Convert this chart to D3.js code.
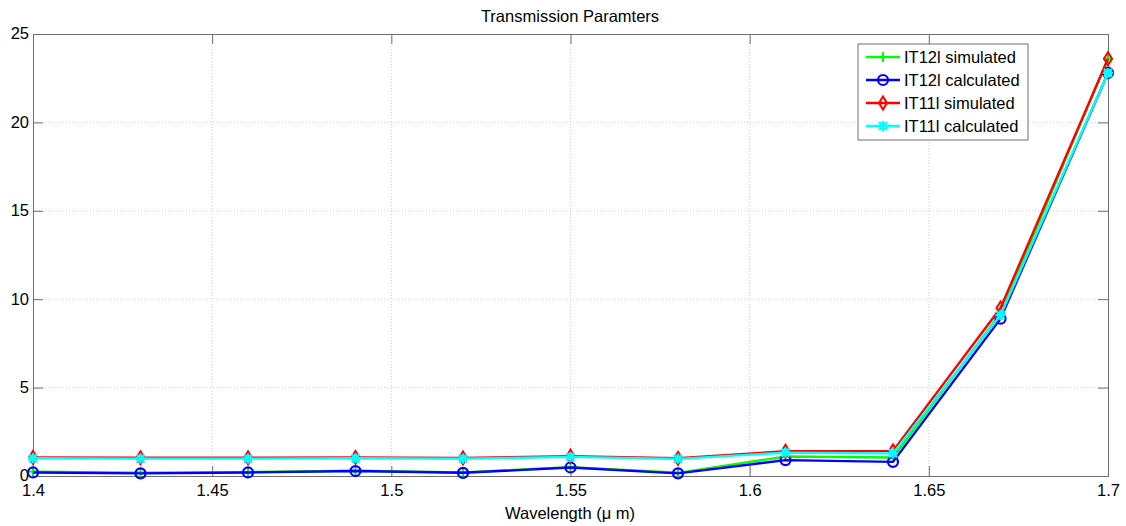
<!DOCTYPE html>
<html>
<head>
<meta charset="utf-8">
<script src="https://cdn.jsdelivr.net/npm/d3@7"></script>
<style>
  body { margin: 0; background: #fff; }
  text { font-family: "Liberation Sans", Arial, sans-serif; }
</style>
</head>
<body>
<script>
// wavelength samples (um)
const wavelength = [1.40, 1.43, 1.46, 1.49, 1.52, 1.55, 1.58, 1.61, 1.64, 1.67, 1.70];
const t12Sim  = [0.25, 0.18, 0.22, 0.30, 0.20, 0.50, 0.18, 1.10, 1.05, 9.2, 23.6];
const t12Calc = [0.20, 0.15, 0.20, 0.28, 0.18, 0.48, 0.15, 0.90, 0.80, 8.9, 22.8];
const t11Sim  = [1.05, 1.03, 1.03, 1.05, 1.02, 1.12, 1.00, 1.40, 1.42, 9.5, 23.6];
const t11Calc = [1.00, 0.98, 0.98, 1.00, 0.98, 1.08, 0.97, 1.32, 1.28, 9.1, 22.8];
const xTicks = [1.4, 1.45, 1.5, 1.55, 1.6, 1.65, 1.7];
const yTicks = [0, 5, 10, 15, 20, 25];

const series = [
  {name: "IT12l simulated",  vals: t12Sim,  color: "#00ff00", marker: "plus"},
  {name: "IT12l calculated", vals: t12Calc, color: "#0000ff", marker: "circle"},
  {name: "IT11l simulated",  vals: t11Sim,  color: "#ff0000", marker: "diamond"},
  {name: "IT11l calculated", vals: t11Calc, color: "#00ffff", marker: "star"}
];

const w = 1126, h = 526;
const margin = {top: 34, right: 18, bottom: 50, left: 33};
const fs = 16.5;

let svg = d3.select("body").append("svg")
  .attr("width", w).attr("height", h);

let x = d3.scaleLinear().domain([1.4, 1.7]).range([margin.left, w - margin.right]);
let y = d3.scaleLinear().domain([0, 25]).range([h - margin.bottom, margin.top]);

// grid
let grid = svg.append("g").attr("stroke", "#cfcfcf").attr("stroke-dasharray", "1,2").attr("stroke-width", 1);
xTicks.slice(1, -1).forEach(t => grid.append("line")
  .attr("x1", x(t)).attr("x2", x(t)).attr("y1", y(0)).attr("y2", y(25)));
yTicks.slice(1, -1).forEach(t => grid.append("line")
  .attr("x1", x(1.4)).attr("x2", x(1.7)).attr("y1", y(t)).attr("y2", y(t)));

// axes with inward ticks (all four sides)
const tk = 10;
svg.append("g")
  .attr("transform", `translate(0,${y(0)})`)
  .call(d3.axisBottom(x).tickValues(xTicks).tickFormat(d3.format("")).tickSize(-tk).tickPadding(8))
  .call(g => g.selectAll("text").attr("font-size", fs).attr("fill", "#000"));
svg.append("g")
  .attr("transform", `translate(0,${y(25)})`)
  .call(d3.axisTop(x).tickValues(xTicks).tickSize(-tk).tickFormat(""));
svg.append("g")
  .attr("transform", `translate(${x(1.4)},0)`)
  .call(d3.axisLeft(y).tickValues(yTicks).tickSize(-tk).tickPadding(4))
  .call(g => g.selectAll("text").attr("font-size", fs).attr("fill", "#000").attr("dy", "0.3em"));
svg.append("g")
  .attr("transform", `translate(${x(1.7)},0)`)
  .call(d3.axisRight(y).tickValues(yTicks).tickSize(-tk).tickFormat(""));
svg.selectAll(".domain, .tick line").attr("stroke", "#6e6e6e");

// marker drawing
function drawMarker(g, type, color, cx, cy) {
  if (type === "plus") {
    g.append("path").attr("d", `M${cx-5},${cy}H${cx+5}M${cx},${cy-5}V${cy+5}`)
      .attr("stroke", color).attr("stroke-width", 2).attr("fill", "none");
  } else if (type === "circle") {
    g.append("circle").attr("cx", cx).attr("cy", cy).attr("r", 5)
      .attr("stroke", color).attr("stroke-width", 2.2).attr("fill", "none");
  } else if (type === "diamond") {
    g.append("path").attr("d", `M${cx},${cy-6.5}L${cx+4},${cy}L${cx},${cy+6.5}L${cx-4},${cy}Z`)
      .attr("stroke", color).attr("stroke-width", 2).attr("fill", "none");
  } else if (type === "star") {
    g.append("path").attr("d", `M${cx-5},${cy}H${cx+5}M${cx},${cy-5}V${cy+5}M${cx-4},${cy-4}L${cx+4},${cy+4}M${cx-4},${cy+4}L${cx+4},${cy-4}`)
      .attr("stroke", color).attr("stroke-width", 2.4).attr("fill", "none");
  }
}

let line = d3.line().x((d, i) => x(wavelength[i])).y(d => y(d));

series.forEach(s => {
  let g = svg.append("g");
  g.append("path").datum(s.vals).attr("d", line)
    .attr("fill", "none").attr("stroke", s.color).attr("stroke-width", 2.4);
  s.vals.forEach((v, i) => drawMarker(g, s.marker, s.color, x(wavelength[i]), y(v)));
});

// title and x label
svg.append("text").attr("x", 570).attr("y", 22).attr("text-anchor", "middle")
  .attr("font-size", fs).text("Transmission Paramters");
svg.append("text").attr("x", 570).attr("y", 519).attr("text-anchor", "middle")
  .attr("font-size", fs).text("Wavelength (\u03bc m)");

// legend
let lg = svg.append("g").attr("transform", "translate(858,44)");
lg.append("rect").attr("width", 170).attr("height", 96)
  .attr("fill", "#fff").attr("stroke", "#6e6e6e");
series.forEach((s, i) => {
  let yy = 13 + i * 23;
  lg.append("line").attr("x1", 8).attr("x2", 42).attr("y1", yy).attr("y2", yy)
    .attr("stroke", s.color).attr("stroke-width", 2.4);
  drawMarker(lg, s.marker, s.color, 25, yy);
  lg.append("text").attr("x", 46).attr("y", yy + 6).attr("font-size", fs).text(s.name);
});
</script>
</body>
</html>
